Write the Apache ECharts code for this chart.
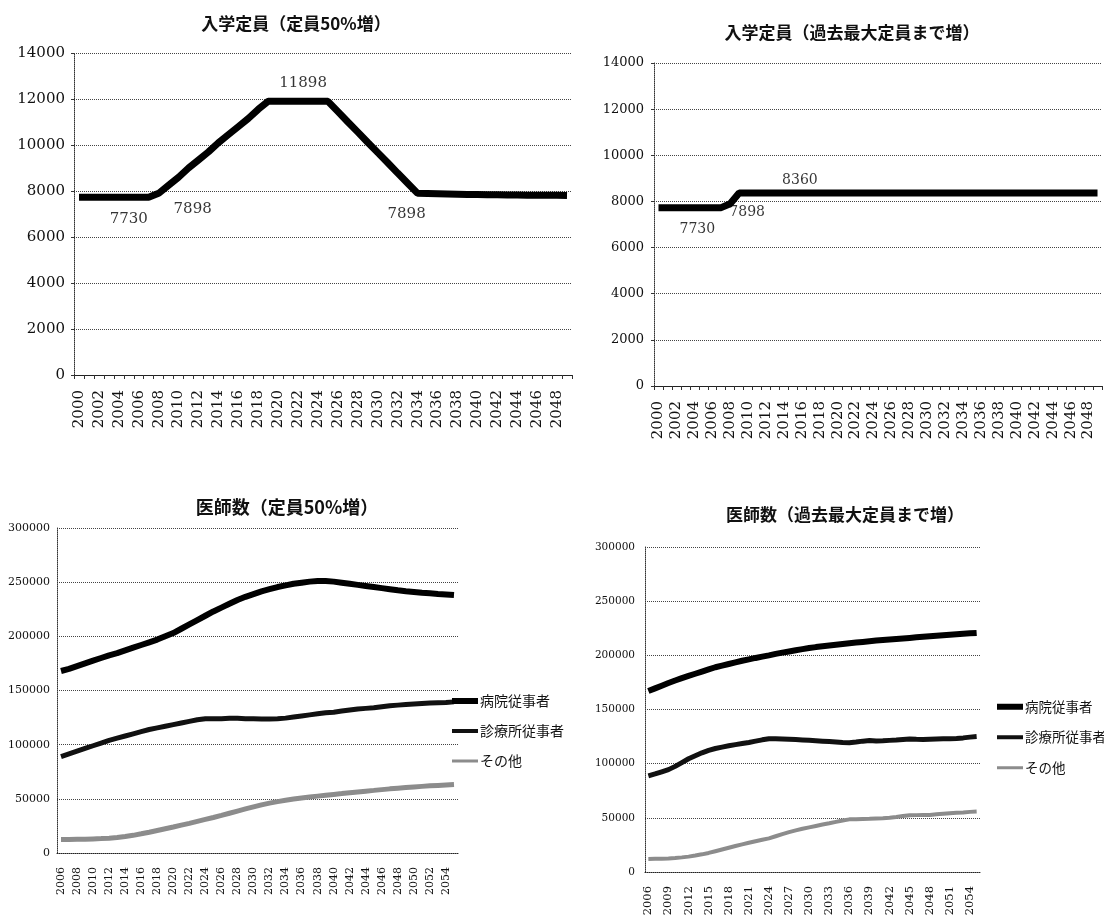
<!DOCTYPE html>
<html>
<head>
<meta charset="utf-8">
<title>入学定員・医師数</title>
<script src="https://cdn.jsdelivr.net/npm/echarts@6/dist/echarts.min.js"></script>
<style>
  html, body { margin: 0; padding: 0; background: #fff; }
  #main { width: 1104px; height: 922px; }
</style>
</head>
<body>
<div id="main"></div>
<script>
// --- data ---
const enrollYears = ['2000','2001','2002','2003','2004','2005','2006','2007','2008','2009',
  '2010','2011','2012','2013','2014','2015','2016','2017','2018','2019',
  '2020','2021','2022','2023','2024','2025','2026','2027','2028','2029',
  '2030','2031','2032','2033','2034','2035','2036','2037','2038','2039',
  '2040','2041','2042','2043','2044','2045','2046','2047','2048','2049']

const doctorYears = ['2006','2007','2008','2009','2010','2011','2012','2013','2014','2015',
  '2016','2017','2018','2019','2020','2021','2022','2023','2024','2025',
  '2026','2027','2028','2029','2030','2031','2032','2033','2034','2035',
  '2036','2037','2038','2039','2040','2041','2042','2043','2044','2045',
  '2046','2047','2048','2049','2050','2051','2052','2053','2054','2055']

// 入学定員（定員50%増）
const enroll50 = [7730,7730,7730,7730,7730,7730,7730,7730,7898,8250,
  8600,9000,9350,9700,10100,10450,10800,11150,11550,11898,
  11898,11898,11898,11898,11898,11898,11450,11000,10560,10110,
  9670,9230,8780,8340,7898,7890,7880,7870,7860,7850,
  7850,7840,7840,7830,7830,7820,7820,7810,7810,7800]

// 入学定員（過去最大定員まで増）
const enrollMax = [7730,7730,7730,7730,7730,7730,7730,7730,7898,8360,
  8360,8360,8360,8360,8360,8360,8360,8360,8360,8360,
  8360,8360,8360,8360,8360,8360,8360,8360,8360,8360,
  8360,8360,8360,8360,8360,8360,8360,8360,8360,8360,
  8360,8360,8360,8360,8360,8360,8360,8360,8360,8360]

// value labels written on the enrollment charts: [year, value]
const enroll50Notes = [['2005', 7730], ['2008', 7898], ['2022', 11898], ['2034', 7898]]
const enrollMaxNotes = [['2004', 7730], ['2008', 7898], ['2015', 8360]]

// 医師数（定員50%増）
const hosp50 = [168000,170000,172500,175000,177500,180000,182500,184500,187000,189500,
  192000,194500,197000,200000,203000,207000,211000,215000,219000,223000,
  226500,230000,233500,236500,239000,241500,243500,245500,247000,248500,
  249500,250500,251000,251000,250500,249500,248500,247500,246500,245500,
  244500,243500,242500,241700,241000,240300,239700,239100,238600,238100]
const clinic50 = [89000,91500,94000,96500,99000,101500,104000,106000,108000,110000,
  112000,114000,115500,117000,118500,120000,121500,123000,124000,124000,
  124000,124300,124300,124000,124000,123800,123800,124000,124500,125500,
  126500,127500,128500,129500,130000,131000,132000,133000,133500,134000,
  135000,136000,136500,137000,137500,138000,138500,138800,139000,139500]
const other50 = [12500,12500,12600,12700,13000,13300,13700,14300,15200,16300,
  17700,19200,20800,22400,24000,25700,27400,29200,31000,32800,
  34700,36700,38700,40700,42600,44400,46000,47400,48700,49800,
  50800,51700,52500,53300,54100,54900,55700,56400,57100,57800,
  58500,59200,59800,60400,61000,61500,62000,62400,62800,63200]

// 医師数（過去最大定員まで増）
const hospMax = [167000,169500,172000,174500,176800,179000,181000,183000,185000,187000,
  189000,190500,192000,193500,195000,196300,197600,198800,200000,201300,
  202500,203600,204700,205700,206700,207600,208400,209100,209800,210500,
  211200,211800,212400,213000,213600,214100,214600,215100,215600,216100,
  216600,217100,217600,218100,218600,219100,219500,219900,220300,220700]
const clinicMax = [88700,90500,92500,94500,97500,101000,104500,107300,110000,112300,
  114000,115300,116500,117600,118600,119600,120800,122000,123000,123000,
  122800,122500,122200,121900,121600,121200,120800,120400,120000,119500,
  119300,120000,120800,121300,121000,121200,121500,121800,122300,122800,
  122500,122300,122600,122800,123000,123000,123300,123800,124500,125000]
const otherMax = [12100,12200,12300,12500,12900,13500,14200,15200,16300,17600,
  19200,20800,22400,24000,25500,27000,28400,29700,31000,33000,
  35000,36800,38400,39900,41200,42500,43800,45000,46300,47600,
  48600,48800,49000,49100,49400,49700,50100,50800,51600,52300,
  52500,52600,52700,53200,53700,54200,54600,55000,55500,55800]

const seriesNames = ['病院従事者', '診療所従事者', 'その他']

// --- styles ---
const NUM_FONT = 'DejaVu Serif'
const JP_FONT = 'Noto Sans CJK JP'
const INK = '#111'
const enroll50Offsets = [[0, 22], [34, 16], [5, -18], [-11, 21]]
const enrollMaxOffsets = [[3, 22], [17, 9], [7, -13]]
// legend swatches: plain bars of the line's thickness
const legendIcons = ['path://M0,0H26V6H0Z', 'path://M0,0H26V4H0Z', 'path://M0,0H26V3H0Z']

function xAxisFor(gridIndex, data, opts) {
  return {
    type: 'category',
    gridIndex: gridIndex,
    data: data,
    boundaryGap: true,
    axisLine: { lineStyle: { color: '#222', width: 1, type: opts.lineType || 'solid' } },
    axisTick: { show: opts.ticks, interval: 0, length: 4, lineStyle: { color: '#333' } },
    axisLabel: {
      interval: opts.every - 1,
      rotate: 90,
      margin: opts.margin,
      fontFamily: NUM_FONT,
      fontSize: opts.fontSize,
      color: INK
    }
  }
}

function yAxisFor(gridIndex, max, interval, fontSize, margin, ticks) {
  return {
    type: 'value',
    gridIndex: gridIndex,
    min: 0,
    max: max,
    interval: interval,
    axisLine: { show: true, lineStyle: { color: '#333', type: 'dotted' } },
    axisTick: { show: ticks, length: 3, lineStyle: { color: '#333' } },
    splitLine: { lineStyle: { color: '#444', type: 'dotted', width: 1 } },
    axisLabel: {
      fontFamily: NUM_FONT,
      fontSize: fontSize,
      color: INK,
      margin: margin,
      formatter: v => String(v)
    }
  }
}

function noteSeries(idx, notes, offsets, fontSize) {
  return {
    type: 'scatter',
    xAxisIndex: idx,
    yAxisIndex: idx,
    symbolSize: 1,
    itemStyle: { color: 'rgba(0,0,0,0)' },
    silent: true,
    data: notes.map((n, i) => ({
      value: n,
      label: { offset: offsets[i] }
    })),
    label: {
      show: true,
      position: 'inside',
      formatter: p => String(p.value[1]),
      fontFamily: NUM_FONT,
      fontSize: fontSize,
      color: '#000'
    }
  }
}

function doctorSeries(idx, values, widths) {
  const colors = ['#000', '#111', '#8c8c8c']
  return values.map((v, i) => ({
    name: seriesNames[i],
    type: 'line',
    xAxisIndex: idx,
    yAxisIndex: idx,
    symbol: 'none',
    smooth: false,
    data: v,
    lineStyle: { color: colors[i], width: widths[i] },
    itemStyle: { color: colors[i] }
  }))
}

function titleAt(text, x, top, size) {
  return {
    text: text,
    left: x,
    top: top,
    textAlign: 'center',
    padding: 0,
    textStyle: { fontFamily: JP_FONT, fontSize: size, fontWeight: 'bold', color: INK }
  }
}

function legendAt(left, top, fontSize, gap) {
  return {
    data: seriesNames.map((n, i) => ({ name: n, icon: legendIcons[i] })),
    orient: 'vertical',
    left: left,
    top: top,
    padding: 0,
    itemWidth: 26,
    itemHeight: 14,
    itemGap: gap,
    symbolKeepAspect: true,
    selectedMode: false,
    textStyle: { fontFamily: JP_FONT, fontSize: fontSize, color: INK, padding: [0, 0, 0, -3] }
  }
}

const chart = echarts.init(document.getElementById('main'))

chart.setOption({
  animation: false,
  backgroundColor: '#fff',
  title: [
    titleAt('入学定員（定員50%増）', 296, 15, 17),
    titleAt('入学定員（過去最大定員まで増）', 852, 24, 17),
    titleAt('医師数（定員50%増）', 287, 498, 18),
    titleAt('医師数（過去最大定員まで増）', 845, 506, 17)
  ],
  legend: [
    legendAt(452, 694, 14, 16),
    legendAt(997, 700, 13.5, 17)
  ],
  grid: [
    { left: 74, top: 53, width: 498, height: 322 },
    { left: 654, top: 63, width: 448, height: 323 },
    { left: 57, top: 528, width: 401, height: 325 },
    { left: 645, top: 547, width: 335, height: 325 }
  ],
  xAxis: [
    xAxisFor(0, enrollYears, { ticks: true, every: 2, margin: 15, fontSize: 15 }),
    xAxisFor(1, enrollYears, { ticks: true, every: 2, margin: 15, fontSize: 15 }),
    xAxisFor(2, doctorYears, { ticks: false, every: 2, margin: 14, fontSize: 11, lineType: 'dotted' }),
    xAxisFor(3, doctorYears, { ticks: false, every: 3, margin: 14, fontSize: 11.5, lineType: 'dotted' })
  ],
  yAxis: [
    yAxisFor(0, 14000, 2000, 15, 9, true),
    yAxisFor(1, 14000, 2000, 13, 10, true),
    yAxisFor(2, 300000, 50000, 11, 7, false),
    yAxisFor(3, 300000, 50000, 10.5, 10, false)
  ],
  series: [
    {
      name: 'enroll50',
      type: 'line',
      xAxisIndex: 0,
      yAxisIndex: 0,
      symbol: 'none',
      data: enroll50,
      lineStyle: { color: '#000', width: 7 }
    },
    noteSeries(0, enroll50Notes, enroll50Offsets, 15),
    {
      name: 'enrollMax',
      type: 'line',
      xAxisIndex: 1,
      yAxisIndex: 1,
      symbol: 'none',
      data: enrollMax,
      lineStyle: { color: '#000', width: 7 }
    },
    noteSeries(1, enrollMaxNotes, enrollMaxOffsets, 14),
    ...doctorSeries(2, [hosp50, clinic50, other50], [6, 5, 5]),
    ...doctorSeries(3, [hospMax, clinicMax, otherMax], [6, 5, 4])
  ]
})
</script>
</body>
</html>
